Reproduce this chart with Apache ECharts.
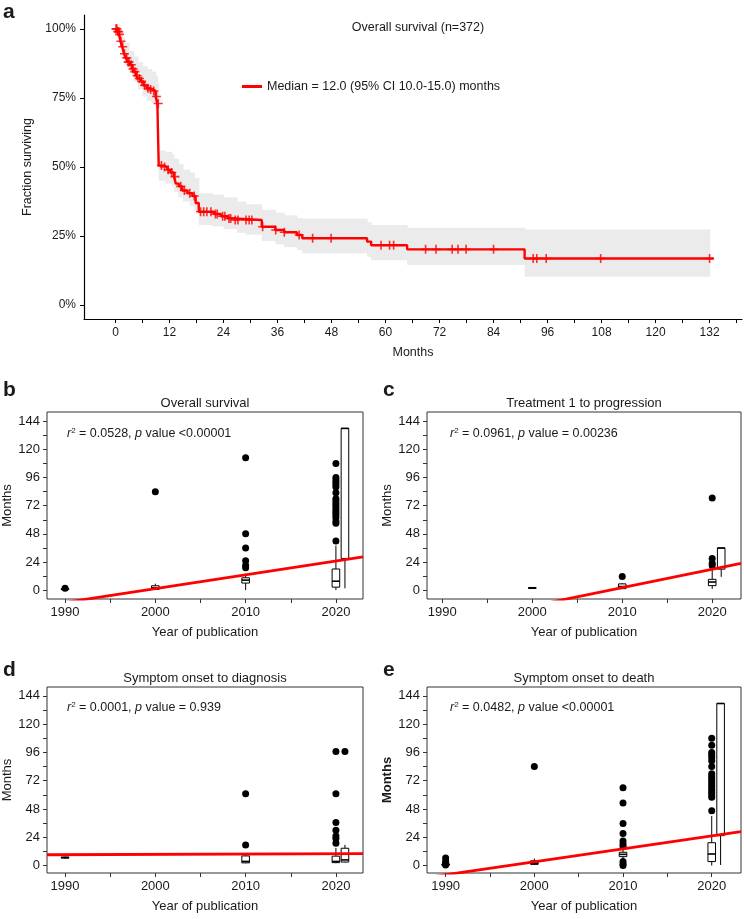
<!DOCTYPE html>
<html><head><meta charset="utf-8">
<script src="https://cdn.jsdelivr.net/npm/echarts@6/dist/echarts.min.js"></script>
<style>html,body{margin:0;padding:0;background:#fff}#c{width:744px;height:919px}</style>
</head><body><div id="c"></div>
<script>
// ---------- Panel a: Kaplan-Meier ----------
const kmTime = [0,0.4,0.8,1.1,1.5,1.9,2.3,2.7,3.2,3.7,4.1,4.6,5.0,5.6,6.2,7.0,7.6,8.3,8.9,9.3,9.6,10.8,11.5,12.2,13.0,13.4,14.1,14.8,16.0,17.1,17.8,18.5,21.9,23.4,25.0,26.3,32.5,35.5,37.5,40.3,41.5,55.9,56.8,64.8,90.9,132.9];
const kmSurv = [1.0,0.99,0.98,0.955,0.935,0.91,0.895,0.88,0.87,0.855,0.845,0.83,0.82,0.81,0.795,0.785,0.78,0.775,0.755,0.73,0.505,0.50,0.49,0.48,0.465,0.44,0.43,0.415,0.405,0.395,0.37,0.338,0.33,0.322,0.314,0.308,0.284,0.272,0.264,0.254,0.242,0.23,0.217,0.202,0.169,0.169];
const ciTime = [0,0.5,1.0,1.5,2.0,3.0,4.0,5.0,6.0,7.0,8.0,8.9,9.3,9.6,11.0,12.5,13.0,14.0,15.0,16.5,17.5,18.5,21.5,24.0,27.0,29.0,32.5,35.5,37.5,40.3,41.5,55.9,56.8,64.8,90.9,132.0];
const ciLow = [1,0.97,0.93,0.90,0.87,0.84,0.81,0.78,0.755,0.74,0.73,0.71,0.68,0.45,0.44,0.43,0.41,0.39,0.375,0.36,0.34,0.29,0.285,0.275,0.262,0.255,0.232,0.22,0.21,0.20,0.188,0.175,0.163,0.145,0.103,0.103];
const ciUp = [1,1,0.985,0.97,0.95,0.92,0.90,0.88,0.865,0.855,0.845,0.83,0.80,0.56,0.555,0.545,0.53,0.51,0.49,0.48,0.46,0.405,0.40,0.39,0.375,0.365,0.345,0.335,0.325,0.315,0.313,0.30,0.29,0.28,0.274,0.274];
const censorTime = [0.1,0.3,0.5,0.7,0.9,1.2,1.6,2.0,2.5,2.8,3.0,3.5,3.9,4.3,4.8,5.3,5.8,6.5,7.2,7.8,8.5,9.1,9.5,10.2,10.9,11.7,12.5,13.2,14.5,15.3,16.5,17.5,18.9,19.6,20.3,21.2,22.2,22.6,23.8,24.3,25.2,25.6,26.6,27.2,29.0,29.7,30.3,32.7,35.6,37.5,40.8,43.8,47.9,59.0,60.9,61.8,68.9,71.2,74.8,76.1,77.9,84.0,92.8,93.6,95.7,107.8,132.0];
const kmTicks = [0,6,12,18,24,30,36,42,48,54,60,66,72,78,84,90,96,102,108,114,120,126,132,138];
const kmLabels = [0,12,24,36,48,60,72,84,96,108,120,132];
const pctTicks = [0,0.25,0.5,0.75,1];

// ---------- Panels b-e ----------
const yearTicks = [1990,1995,2000,2005,2010,2015,2020];
const yearLabels = [1990,2000,2010,2020];
const monthTicks = [0,12,24,36,48,60,72,84,96,108,120,132,144];
const monthLabels = [0,24,48,72,96,120,144];

// boxes: [year, lowerWhisker, Q1, median, Q3, upperWhisker]
const osBoxes = [[1990,0.5,0.8,1,1.2,1.5],[2000,0,0.5,2,3.7,5.5],[2010,0,6,8.5,10.5,14],[2020,0,2.5,7.6,18,38],[2021,1.5,27,138,138,138]];
const osOut = [[1990,1.5],[2000,84],[2010,19],[2010,21],[2010,25],[2010,36],[2010,48],[2010,113],[2020,42],[2020,57],[2020,59],[2020,62],[2020,64],[2020,66],[2020,68],[2020,70],[2020,72],[2020,74],[2020,76],[2020,78],[2020,83],[2020,88],[2020,90],[2020,92],[2020,94],[2020,96],[2020,108]];
const osFit = [[1988,-12.9],[2023,28.4]];

const tpBoxes = [[2000,1.5,1.8,2,2.2,2.5],[2010,1,1.2,3,5.3,6],[2020,1,3.8,6.9,9.2,18],[2021,11.3,17.9,35.9,35.9,35.9]];
const tpOut = [[2010,11.5],[2020,21],[2020,23],[2020,27],[2020,78.5]];
const tpFit = [[1988.3,-32],[2023.2,22.9]];

const sdBoxes = [[1990,6,6.4,6.8,7.2,7.6],[2010,2,2.3,3.5,8.2,9],[2020,2,2.5,3.5,8,15],[2021,2.6,3,4.8,14.7,17.6]];
const sdOut = [[2010,17.5],[2010,61],[2020,19],[2020,23],[2020,25],[2020,30],[2020,36.5],[2020,61],[2020,96.8],[2021,96.8]];
const sdFit = [[1988,9.2],[2023,10.2]];

const sdthBoxes = [[1990,0,0.3,0.8,1.4,2],[2000,0.5,1,2,4,6],[2010,4,7.6,9.5,11.3,14],[2020,0,3.4,9.8,19.4,42],[2021,0.5,25.4,137.5,137.5,137.5]];
const sdthOut = [[1990,0.5],[1990,2],[1990,3.5],[1990,6.5],[2000,84],[2010,0],[2010,1.4],[2010,3.4],[2010,16.3],[2010,18.3],[2010,20.8],[2010,27.3],[2010,35.7],[2010,53],[2010,66],
  [2020,46.5],[2020,58],[2020,60],[2020,62],[2020,64],[2020,66],[2020,68],[2020,70],[2020,72],[2020,74],[2020,76],[2020,78],[2020,84],[2020,89],[2020,92],[2020,94],[2020,96],[2020,102],[2020,108]];
const sdthFit = [[1987.9,-10.1],[2023.3,28.8]];

// ---------- helpers ----------
const FONT = 'Liberation Sans';
const TXT = '#1a1a1a';
function survAt(t){ let s = kmSurv[0]; for (let i=0;i<kmTime.length;i++){ if (kmTime[i] <= t) s = kmSurv[i]; } return s; }
function bandRender(params, api){
  const t0 = api.value(0), t1 = api.value(1), lo = api.value(2), up = api.value(3);
  const a = api.coord([t0, up]), b = api.coord([t1, lo]);
  return {type:'rect', shape:{x:a[0], y:a[1], width:Math.max(0, b[0]-a[0]+0.6), height:b[1]-a[1]}, style:{fill:'#ebebeb'}};
}
function boxRender(params, api){
  const x = api.value(0);
  const lo = api.coord([x, api.value(1)]), q1 = api.coord([x, api.value(2)]), md = api.coord([x, api.value(3)]), q3 = api.coord([x, api.value(4)]), hi = api.coord([x, api.value(5)]);
  const hw = 3.8, cx = lo[0];
  const st = {stroke:'#000', lineWidth:1};
  return {type:'group', children:[
    {type:'line', shape:{x1:cx,y1:lo[1],x2:cx,y2:q1[1]}, style:st},
    {type:'line', shape:{x1:cx,y1:q3[1],x2:cx,y2:hi[1]}, style:st},
    {type:'rect', shape:{x:cx-hw,y:Math.min(q3[1],q1[1]),width:2*hw,height:Math.max(1,Math.abs(q1[1]-q3[1]))}, style:{fill:'#fff',stroke:'#000',lineWidth:1}},
    {type:'line', shape:{x1:cx-hw,y1:md[1],x2:cx+hw,y2:md[1]}, style:{stroke:'#000',lineWidth:1.6}}
  ]};
}
function yearAxis(gi, min, max){
  return {type:'value', gridIndex:gi, min, max, name:'Year of publication', nameLocation:'middle', nameGap:27,
    nameTextStyle:{fontSize:13, color:TXT, fontFamily:FONT},
    axisLine:{show:false, onZero:false}, splitLine:{show:false},
    axisTick:{show:true, length:4, customValues:yearTicks, lineStyle:{color:'#333'}},
    axisLabel:{customValues:yearLabels, fontSize:13, color:TXT, margin:7, fontFamily:FONT, formatter:v=>String(v)}};
}
function monthAxis(gi, min, max, bold){
  return {type:'value', gridIndex:gi, min, max, name:'Months', nameLocation:'middle', nameGap:29,
    nameTextStyle:{fontSize:13, color:TXT, fontFamily:FONT, fontWeight: bold ? 'bold':'normal'},
    axisLine:{show:false, onZero:false}, splitLine:{show:false},
    axisTick:{show:true, length:4, customValues:monthTicks, lineStyle:{color:'#333'}},
    axisLabel:{customValues:monthLabels, fontSize:13, color:TXT, margin:7, fontFamily:FONT}};
}
function panelSeries(idx, boxes, outs, fit){
  return [
    {type:'custom', xAxisIndex:idx, yAxisIndex:idx, renderItem:boxRender, encode:{x:0, y:[1,2,3,4,5]}, data:boxes, z:2, silent:true},
    {type:'scatter', xAxisIndex:idx, yAxisIndex:idx, data:outs, symbol:'circle', symbolSize:7, itemStyle:{color:'#000', opacity:1}, z:3, silent:true},
    {type:'line', xAxisIndex:idx, yAxisIndex:idx, data:fit, symbol:'none', lineStyle:{color:'#ff0000', width:2.8}, clip:true, z:4, silent:true}
  ];
}
function ann(x, y, r2, p){
  return {type:'text', x, y, style:{text:'{i|r}{s|2} = '+r2+', {i|p} value '+p, fontSize:12.5, fontFamily:FONT, fill:TXT,
    rich:{i:{fontStyle:'italic', fontSize:12.5, fontFamily:FONT}, s:{fontSize:8, fontFamily:FONT, padding:[0,0,6,0]}}, textVerticalAlign:'middle'}};
}
function lbl(x, y, t, size, weight, align){
  return {type:'text', x, y, style:{text:t, fontSize:size, fontWeight:weight||'normal', fontFamily:FONT, fill:TXT, textAlign:align||'left', textVerticalAlign:'middle'}};
}

const kmName = 'Median = 12.0 (95% CI 10.0-15.0) months';
const chart = echarts.init(document.getElementById('c'), null, {renderer:'canvas'});
const option = {
  animation:false,
  textStyle:{fontFamily:FONT},
  grid:[
    {left:84, top:15, width:658, height:304},
    {left:47, top:412, width:316, height:187, show:true, borderColor:'#333', borderWidth:1, backgroundColor:'transparent'},
    {left:427, top:412, width:314, height:187, show:true, borderColor:'#333', borderWidth:1, backgroundColor:'transparent'},
    {left:47, top:687, width:316, height:186, show:true, borderColor:'#333', borderWidth:1, backgroundColor:'transparent'},
    {left:427, top:687, width:314, height:186, show:true, borderColor:'#333', borderWidth:1, backgroundColor:'transparent'}
  ],
  legend:{data:[kmName], left:242, top:80, icon:'rect', itemWidth:20, itemHeight:3, textStyle:{fontSize:12.5, color:TXT, fontFamily:FONT}, padding:0},
  xAxis:[
    {type:'value', gridIndex:0, min:-7, max:139.2, name:'Months', nameLocation:'middle', nameGap:27,
      nameTextStyle:{fontSize:12.5, color:TXT, fontFamily:FONT},
      axisLine:{show:true, onZero:false, lineStyle:{color:'#000', width:1.2}}, splitLine:{show:false},
      axisTick:{show:true, length:4, customValues:kmTicks, lineStyle:{color:'#000'}},
      axisLabel:{customValues:kmLabels, fontSize:12, color:TXT, margin:8, fontFamily:FONT}},
    yearAxis(1, 1988, 2023), yearAxis(2, 1988.3, 2023.2), yearAxis(3, 1988, 2023), yearAxis(4, 1987.9, 2023.3)
  ],
  yAxis:[
    {type:'value', gridIndex:0, min:-0.05, max:1.05, name:'Fraction surviving', nameLocation:'middle', nameGap:40,
      nameTextStyle:{fontSize:12.5, color:TXT, fontFamily:FONT},
      axisLine:{show:true, onZero:false, lineStyle:{color:'#000', width:1.2}}, splitLine:{show:false},
      axisTick:{show:true, length:4, customValues:pctTicks, lineStyle:{color:'#000'}},
      axisLabel:{customValues:pctTicks, fontSize:12, color:TXT, margin:8, fontFamily:FONT, formatter:v=>Math.round(v*100)+'%'}},
    monthAxis(1, -7.6, 152), monthAxis(2, -7.6, 152), monthAxis(3, -6.3, 151.5), monthAxis(4, -6.3, 151.5, true)
  ],
  series:[
    {type:'custom', xAxisIndex:0, yAxisIndex:0, renderItem:bandRender, silent:true, z:1,
      encode:{x:[0,1], y:[2,3]},
      data:ciTime.slice(0,-1).map((t,i)=>[t, ciTime[i+1], ciLow[i], ciUp[i]])},
    {name:kmName, type:'line', xAxisIndex:0, yAxisIndex:0, step:'end', symbol:'none', silent:true,
      data:kmTime.map((t,i)=>[t, kmSurv[i]]), lineStyle:{color:'#ff0000', width:2.4}, itemStyle:{color:'#ff0000'}, z:3},
    {type:'scatter', xAxisIndex:0, yAxisIndex:0, silent:true,
      data:censorTime.map(t=>[t, survAt(t)]), symbol:'path://M4.1,0H5.9V4.1H10V5.9H5.9V10H4.1V5.9H0V4.1H4.1Z', symbolSize:9, itemStyle:{color:'#ff0000'}, z:4},
    ...panelSeries(1, osBoxes, osOut, osFit),
    ...panelSeries(2, tpBoxes, tpOut, tpFit),
    ...panelSeries(3, sdBoxes, sdOut, sdFit),
    ...panelSeries(4, sdthBoxes, sdthOut, sdthFit)
  ],
  graphic:[
    lbl(3, 12, 'a', 21, 'bold'),
    lbl(418, 28, 'Overall survival (n=372)', 12.5, 'normal', 'center'),
    lbl(3, 390, 'b', 21, 'bold'),
    lbl(383, 390, 'c', 21, 'bold'),
    lbl(3, 670, 'd', 21, 'bold'),
    lbl(383, 670, 'e', 21, 'bold'),
    lbl(205, 403, 'Overall survival', 13, 'normal', 'center'),
    lbl(584, 403, 'Treatment 1 to progression', 13, 'normal', 'center'),
    lbl(205, 678, 'Symptom onset to diagnosis', 13, 'normal', 'center'),
    lbl(584, 678, 'Symptom onset to death', 13, 'normal', 'center'),
    ann(67, 434, '0.0528', '<0.00001'),
    ann(450, 434, '0.0961', '= 0.00236'),
    ann(67, 708, '0.0001', '= 0.939'),
    ann(450, 708, '0.0482', '<0.00001')
  ]
};
chart.setOption(option);
</script></body></html>
